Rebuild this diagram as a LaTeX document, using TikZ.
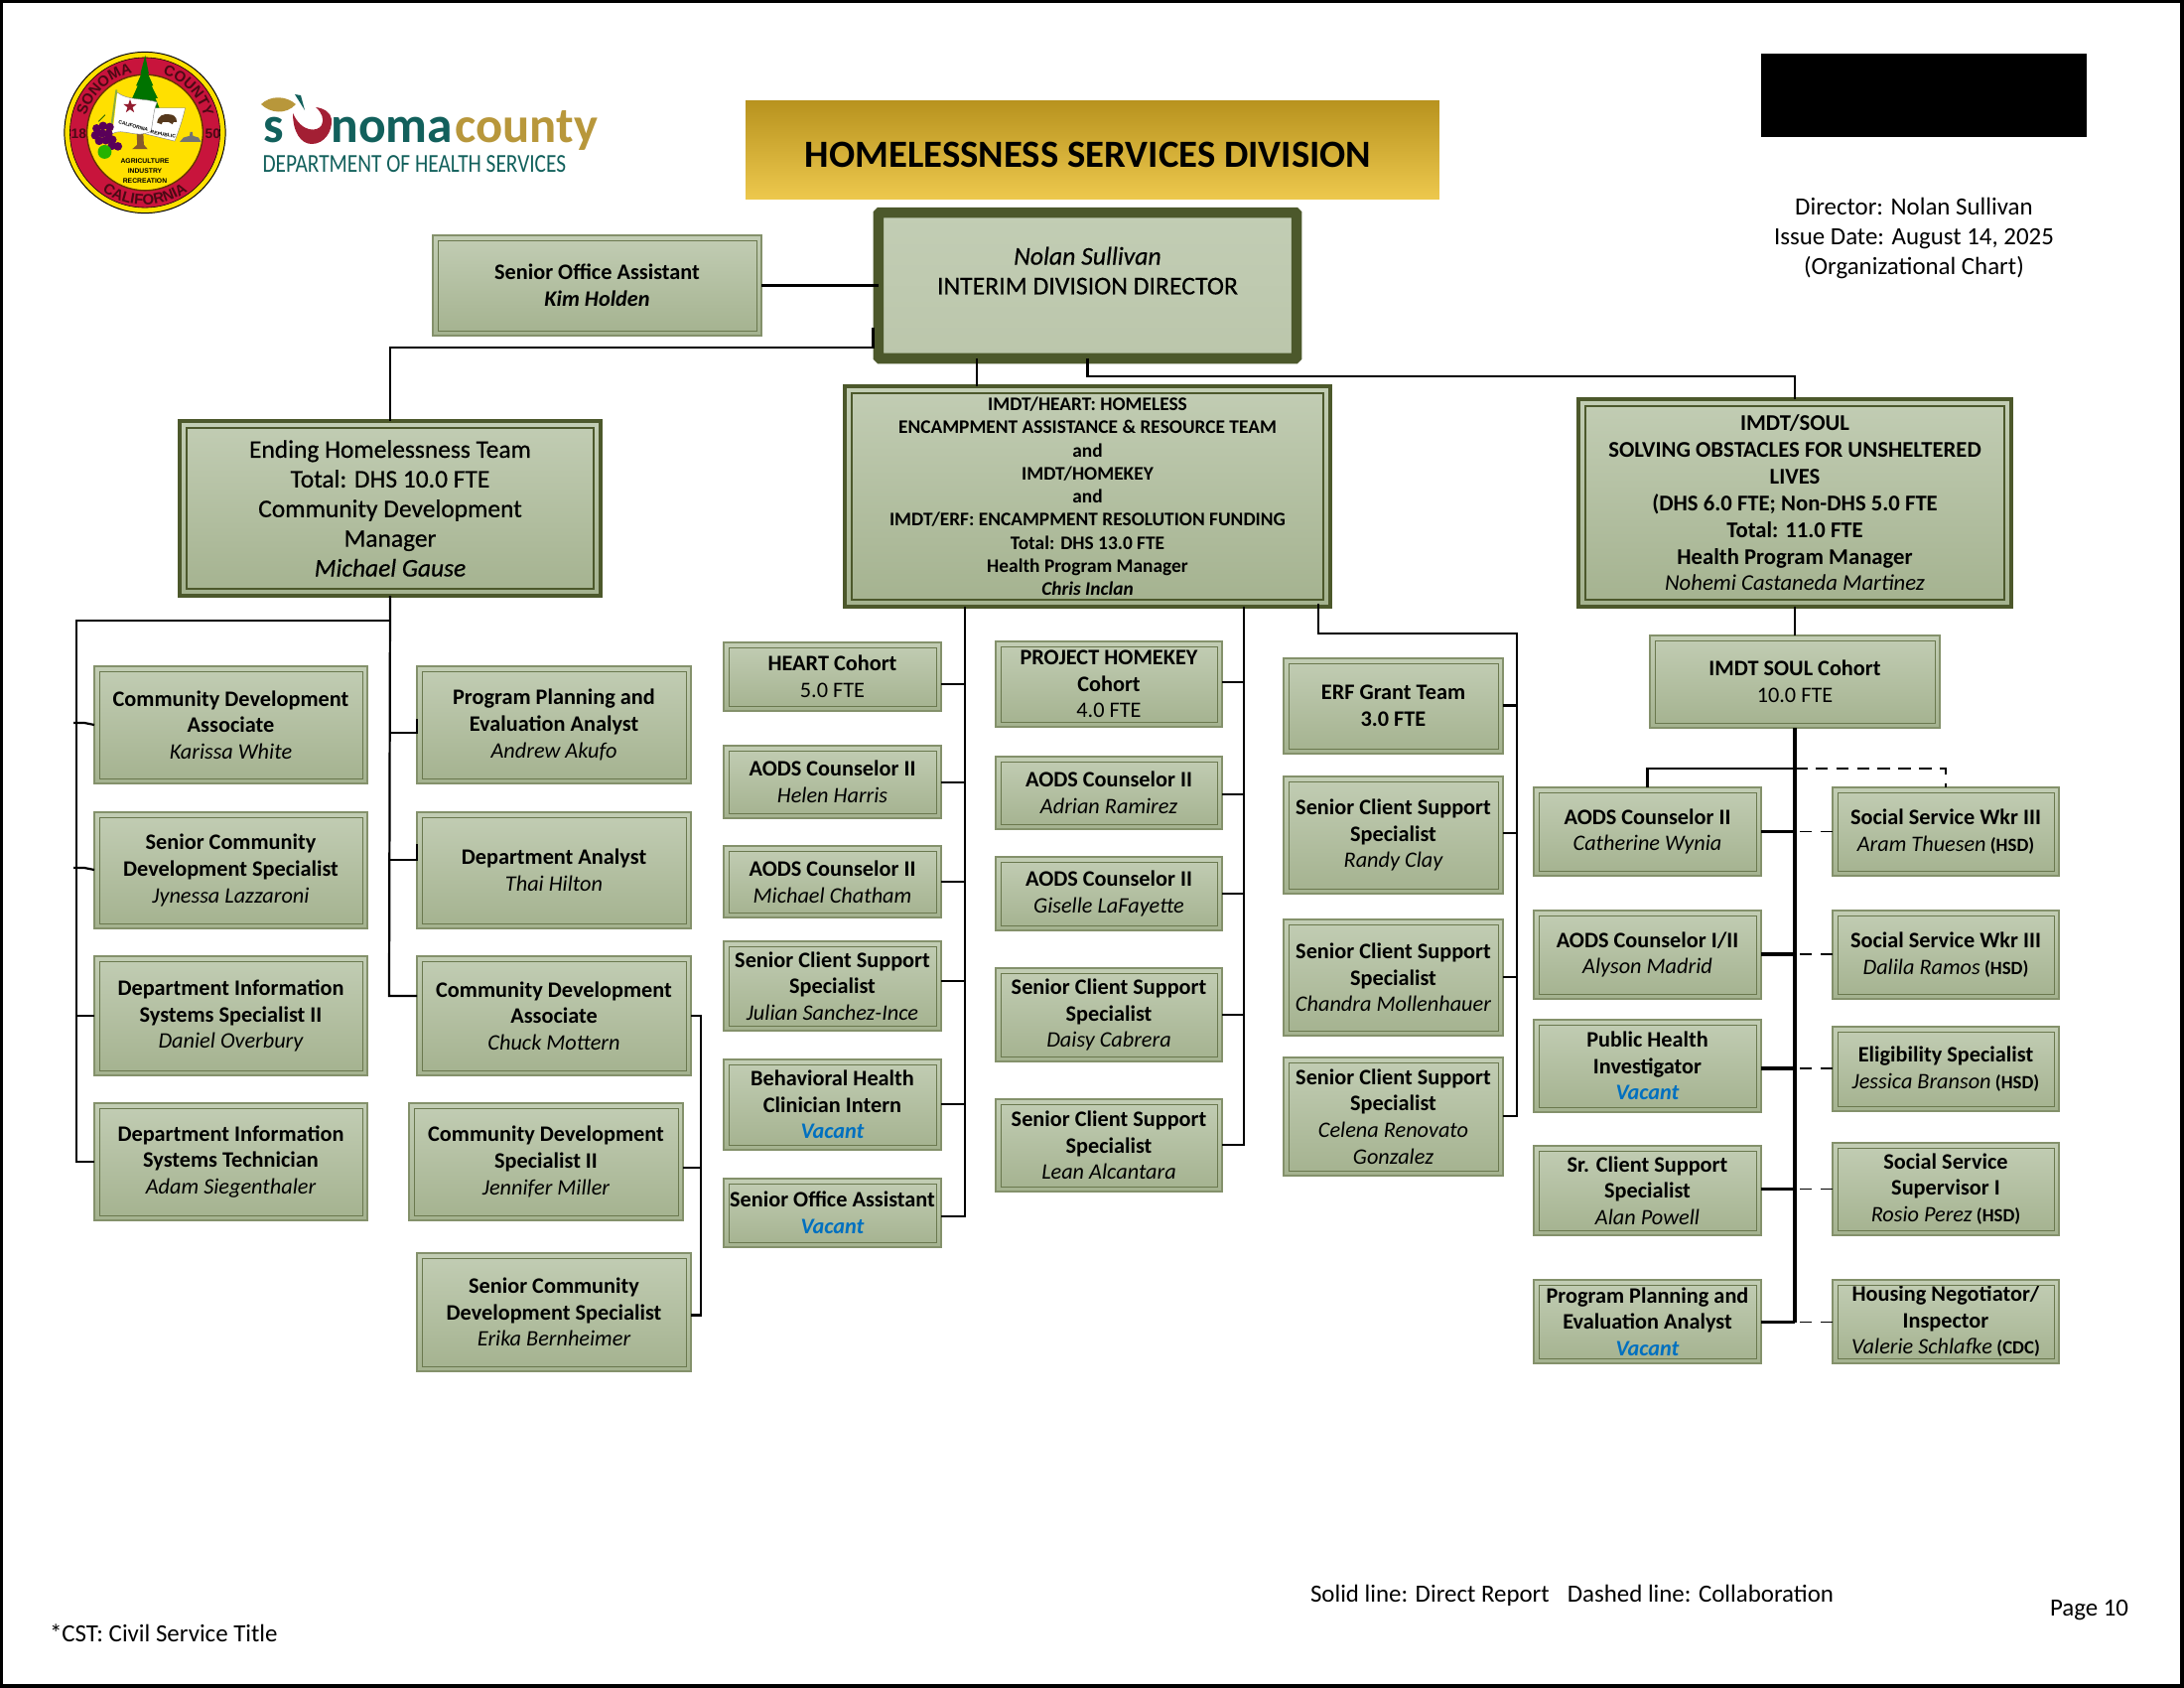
\documentclass[tikz,border=0pt]{standalone}
\usepackage{fontspec}
\setmainfont{Carlito}
\newfontfamily\sealf{Liberation Sans}
\newfontfamily\medf[FakeBold=0.5]{Carlito}
\usetikzlibrary{calc,decorations.text}
\definecolor{boxtop}{HTML}{C2CDB4}
\definecolor{boxbot}{HTML}{A4B28F}
\definecolor{boxedge}{HTML}{84916B}
\definecolor{boxin}{HTML}{6A784E}
\definecolor{bigedge}{HTML}{4C582B}
\definecolor{vacblue}{HTML}{0070C0}
\definecolor{teal}{HTML}{12605C}
\definecolor{logogold}{HTML}{B8973B}
\definecolor{logored}{HTML}{A31F34}
\definecolor{sealred}{HTML}{C8143C}
\definecolor{sealyel}{HTML}{FFE000}
\definecolor{sealtxt}{HTML}{4A0A14}
\definecolor{dirbot}{HTML}{BBC6AB}
\definecolor{bantop}{HTML}{B8931F}
\definecolor{banbot}{HTML}{EDC84D}
\tikzset{
 orgbox/.style={draw=boxedge,line width=0.5bp,top color=boxtop,bottom color=boxbot,inner sep=0pt,outer sep=0pt,align=center,text=black,font=\fontsize{8.05}{9.6}\selectfont\bfseries},
 bigbox/.style={draw=bigedge,line width=1.6bp,top color=boxtop,bottom color=boxbot,inner sep=0pt,outer sep=0pt,align=center,text=black},
 dirbox/.style={draw=bigedge,line width=3.8bp,rounded corners=0.5bp,top color=boxtop,bottom color=dirbot,inner sep=0pt,outer sep=0pt,align=center,text=black,font=\medf\fontsize{9.3}{10.8}\selectfont},
 innerline/.style={draw=boxin,line width=0.35bp},
 biginner/.style={draw=bigedge,line width=0.8bp},
 lnk/.style={draw=black,line width=0.8bp},
 lnkthick/.style={draw=black,line width=1.2bp},
 dashlnk/.style={draw=black,line width=0.7bp,dash pattern=on 4.5bp off 3bp},
 plain/.style={inner sep=0pt,outer sep=0pt,align=center,text=black,font=\fontsize{9}{10.7}\selectfont},
}
\newcommand\nm[1]{{\mdseries\itshape #1}}
\newcommand\vac{{\itshape\color{vacblue}Vacant}}
\newcommand\tg[1]{{\fontsize{6.8}{9.6}\selectfont\ (#1)}}
% name,x1,y1,x2,y2,text
\newcommand\obox[6]{%
 \pgfmathsetmacro\bw{(#4-#2)*0.36}\pgfmathsetmacro\bh{(#5-#3)*0.36}%
 \node[orgbox,minimum width=\bw bp,minimum height=\bh bp] (#1) at ({(#2+#4)/2},{(#3+#5)/2}) {#6};
 \draw[innerline] ([shift={(5,5)}]#1.north west) rectangle ([shift={(-5,-5)}]#1.south east);
}
\newcommand\bbox[7]{%
 \pgfmathsetmacro\bw{(#4-#2)*0.36}\pgfmathsetmacro\bh{(#5-#3)*0.36}%
 \node[bigbox,minimum width=\bw bp,minimum height=\bh bp,font=#6] (#1) at ({(#2+#4)/2},{(#3+#5)/2}) {#7};
 \draw[biginner] ([shift={(7,7)}]#1.north west) rectangle ([shift={(-7,-7)}]#1.south east);
}
\begin{document}
\begin{tikzpicture}[x=0.36bp,y=-0.36bp]
\useasboundingbox (0,0) rectangle (2200,1700);
\fill[white] (0,0) rectangle (2200,1700);
\draw[black,line width=1.1bp] (1.5,1.5) rectangle (2198,1698);
% ---- seal
\coordinate (sealc) at (146,133.5);
\begin{scope}[shift={(sealc)},x=1bp,y=1bp]
 \fill[sealyel] (0,0) circle (29.2);
 \draw[black,line width=0.35bp] (0,0) circle (29.2);
 \fill[sealred] (0,0) circle (27.2);
 \draw[black,line width=0.2bp] (0,0) circle (27.2);
 \fill[sealyel] (0,0) circle (21);
 \draw[black!60!orange,line width=0.5bp] (0,0) circle (21);
 % tree
 \fill[green!45!black] (0.1,28) -- (1.4,21.5) -- (1,21.5) -- (3,17) -- (2.4,17) -- (4.6,12.5) -- (3.8,12.5) -- (6,7) -- (-5.6,9) -- (-4,12.5) -- (-4.6,12.5) -- (-2.6,17) -- (-3.2,17) -- (-1.2,21.5) -- (-1.6,21.5) -- cycle;
 % trunk
 \fill[brown!70!black] (-3,0) -- (-0.6,0) -- (-0.4,-4.4) -- (1,-6) -- (-4.6,-6) -- (-2.8,-4.4) -- cycle;
 % flag pole
 \draw[black!35!yellow!70!green,line width=0.7bp] (-10.3,15.5) -- (-12.6,-1);
 % flag pages
 \fill[white] (3.6,8.9) -- (14.6,8.9) .. controls (13.5,4) and (12,0) .. (10.8,-3.1) -- (0.2,-0.5) -- cycle;
 \draw[black!50,line width=0.15bp] (3.6,8.9) -- (14.6,8.9) .. controls (13.5,4) and (12,0) .. (10.8,-3.1) -- (0.2,-0.5);
 \fill[white] (-10,14.5) .. controls (-6,11.5) and (0,12.5) .. (4.4,11) .. controls (3,8) and (3,4) .. (2.2,0.5) .. controls (-3,-2.5) and (-8,2) .. (-12,-0.5) .. controls (-11,4) and (-10.8,9) .. (-10,14.5) -- cycle;
 \draw[black!50,line width=0.15bp] (-10,14.5) .. controls (-6,11.5) and (0,12.5) .. (4.4,11) .. controls (3,8) and (3,4) .. (2.2,0.5) .. controls (-3,-2.5) and (-8,2) .. (-12,-0.5);
 % star
 \fill[logored!90!black] (-5.4,12.1) -- (-4.8,10.3) -- (-3,10.3) -- (-4.5,9.1) -- (-3.9,7.3) -- (-5.4,8.4) -- (-6.9,7.3) -- (-6.3,9.1) -- (-7.8,10.3) -- (-6,10.3) -- cycle;
 % bear
 \fill[black!55!brown] (4.4,3.6) .. controls (4.8,6.4) and (7,6.8) .. (8.5,6.6) .. controls (10.5,6.6) and (11.4,5.8) .. (11.6,3.8) -- (10.4,3.8) -- (10,3) -- (8.6,3.8) -- (6.4,3.8) -- (6,3) -- cycle;
 \node[font=\sealf\fontsize{1.8}{2}\selectfont\bfseries,rotate=-15,inner sep=0pt] (sealtxtc) at (-4.2,2.3) {CALIFORNIA};
 \node[font=\sealf\fontsize{1.8}{2}\selectfont\bfseries,rotate=-10,inner sep=0pt] (sealtxtr) at (6.6,-0.7) {REPUBLIC};
 % grapes
 \foreach \p in {(-17.5,1.5),(-15.2,2.4),(-12.8,2),(-18,-1),(-15.6,-0.3),(-13.2,-0.4),(-16.6,-3),(-14.2,-2.8),(-11.8,-2.6),(-12,-4.8),(-9.8,-5)}
   \fill[violet!70!black] \p circle (1.55);
 \draw[green!30!black,line width=0.25bp] (-16.8,4) -- (-14.4,6.4);
 % apple
 \fill[green!65!black!85!yellow] (-14.6,-7) circle (2.5);
 % dome building
 \fill[black!55] (12.6,-3.4) -- (20.4,-3.4) -- (19.4,-1.8) -- (17.4,-1.2) -- (17.2,0.2) -- (16.4,0.2) -- (16.2,-1.2) -- (14,-1.8) -- cycle;
 \node[font=\sealf\fontsize{2.45}{3.5}\selectfont\bfseries,align=center,inner sep=0pt] (sealmotto) at (0,-13.9) {AGRICULTURE\\INDUSTRY\\RECREATION};
 \path[decorate,decoration={text along path,text={|\sealf\fontsize{5.4}{6}\selectfont\bfseries\color{sealtxt}|SONOMA},text align=center}] (170:22.2) arc[start angle=170,end angle=96,radius=22.2];
 \path[decorate,decoration={text along path,text={|\sealf\fontsize{5.4}{6}\selectfont\bfseries\color{sealtxt}|COUNTY},text align=center}] (80:22.2) arc[start angle=80,end angle=8,radius=22.2];
 \path[decorate,decoration={text along path,text={|\sealf\fontsize{5.4}{6}\selectfont\bfseries\color{sealtxt}|CALIFORNIA},text align=center}] (222:26.2) arc[start angle=222,end angle=318,radius=26.2];
 \node[font=\sealf\fontsize{5}{5}\selectfont\bfseries,text=sealtxt,inner sep=0pt] (seal18) at (-24,-0.5) {18};
 \node[font=\sealf\fontsize{5}{5}\selectfont\bfseries,text=sealtxt,inner sep=0pt] (seal50) at (24.6,-0.6) {50};
\end{scope}
% ---- logo
\fill[logogold] (263,105) .. controls (272,96) and (288,96) .. (298,105) .. controls (288,116) and (272,114) .. (263,105) -- cycle;
\fill[teal] (297,95) -- (303,96) -- (307,111) -- cycle;
\fill[logored] (295,114) .. controls (295,133) and (303,145) .. (314,145) .. controls (327,145) and (335,132) .. (334,120) .. controls (333,113) and (326,109) .. (318,108) .. controls (324,113) and (327,120) .. (324,126) .. controls (320,133) and (304,134) .. (295,114) -- cycle;
\node[anchor=base west,inner sep=0pt,text=teal,font=\fontsize{18.6}{20}\selectfont\bfseries] (logos) at (265,143) {s};
\node[anchor=base west,inner sep=0pt,text=teal,font=\fontsize{18.6}{20}\selectfont\bfseries] (logon) at (333,143) {noma};
\node[anchor=base west,inner sep=0pt,text=logogold,font=\fontsize{18.3}{20}\selectfont\bfseries] (logoc) at (458,143) {county};
\node[anchor=base west,inner sep=0pt,text=teal,font=\fontsize{9.4}{10}\selectfont] (logod) at (264,173) {\scalebox{0.82}[1]{DEPARTMENT OF HEALTH SERVICES}};
% ---- banner
\node[inner sep=0pt,outer sep=0pt,minimum width=251.6bp,minimum height=35.3bp,top color=bantop,bottom color=banbot,font=\fontsize{14}{16}\selectfont\bfseries] (banner) at (1100.5,151) {\raisebox{-6.3bp}[0pt][0pt]{HOMELESSNESS SERVICES DIVISION\kern3.2bp}};
% ---- black block and header text
\fill[black] (1774,54) rectangle (2102,138);
\node[plain] (issue) at (1928,240) {Director: Nolan Sullivan\\Issue Date: August 14, 2025\\(Organizational Chart)};
\node[plain,anchor=west] (legend) at (1320,1607) {Solid line: Direct Report\hspace{0.5em} Dashed line: Collaboration};
\node[plain,anchor=west] (pageno) at (2065,1622) {Page 10};
\node[plain,anchor=west] (cst) at (50,1645) {*CST: Civil Service Title};
% ---- top nodes
\node[dirbox,minimum width=151.6bp,minimum height=52.9bp] (dir) at (1095.5,287.5) {{\itshape Nolan Sullivan}\\INTERIM DIVISION DIRECTOR\\\ };
\obox{soa}{436}{237}{767}{338}{Senior Office Assistant\\{\itshape Kim Holden}}
\bbox{eht}{181}{424}{605}{600}{\medf\fontsize{9.2}{10.8}\selectfont}{Ending Homelessness Team\\Total: DHS 10.0 FTE\\Community Development\\Manager\\{\itshape Michael Gause}}
\bbox{mid}{851}{389}{1340}{611}{\fontsize{7}{8.4}\selectfont\bfseries}{IMDT/HEART: HOMELESS\\ENCAMPMENT ASSISTANCE \& RESOURCE TEAM\\and\\IMDT/HOMEKEY\\and\\IMDT/ERF: ENCAMPMENT RESOLUTION FUNDING\\Total: DHS 13.0 FTE\\Health Program Manager\\{\itshape Chris Inclan}}
\bbox{soul}{1590}{402}{2026}{611}{\fontsize{8.2}{9.7}\selectfont\bfseries}{IMDT/SOUL\\SOLVING OBSTACLES FOR UNSHELTERED\\LIVES\\(DHS 6.0 FTE; Non-DHS 5.0 FTE\\Total: 11.0 FTE\\Health Program Manager\\\nm{Nohemi Castaneda Martinez}}
% ---- ending homelessness reports
\obox{karissa}{95}{671}{370}{789}{Community Development\\Associate\\\nm{Karissa White}}
\obox{jynessa}{95}{818}{370}{935}{Senior Community\\Development Specialist\\\nm{Jynessa Lazzaroni}}
\obox{daniel}{95}{963}{370}{1083}{Department Information\\Systems Specialist II\\\nm{Daniel Overbury}}
\obox{adam}{95}{1111}{370}{1229}{Department Information\\Systems Technician\\\nm{Adam Siegenthaler}}
\obox{andrew}{420}{671}{696}{789}{Program Planning and\\Evaluation Analyst\\\nm{Andrew Akufo}}
\obox{thai}{420}{818}{696}{935}{Department Analyst\\\nm{Thai Hilton}}
\obox{chuck}{420}{963}{696}{1083}{Community Development\\Associate\\\nm{Chuck Mottern}}
\obox{jennifer}{412}{1111}{688}{1229}{Community Development\\Specialist II\\\nm{Jennifer Miller}}
\obox{erika}{420}{1262}{696}{1381}{Senior Community\\Development Specialist\\\nm{Erika Bernheimer}}
% ---- heart column
\obox{heart}{729}{647}{948}{716}{HEART Cohort\\{\mdseries 5.0 FTE}}
\obox{helen}{729}{751}{948}{824}{AODS Counselor II\\\nm{Helen Harris}}
\obox{chatham}{729}{852}{948}{924}{AODS Counselor II\\\nm{Michael Chatham}}
\obox{julian}{729}{948}{948}{1038}{Senior Client Support\\Specialist\\\nm{Julian Sanchez-Ince}}
\obox{bhci}{729}{1067}{948}{1158}{Behavioral Health\\Clinician Intern\\\vac}
\obox{soav}{729}{1187}{948}{1256}{Senior Office Assistant\\\vac}
% ---- homekey column
\obox{homekey}{1003}{646}{1231}{732}{PROJECT HOMEKEY\\Cohort\\{\mdseries 4.0 FTE}}
\obox{adrian}{1003}{762}{1231}{835}{AODS Counselor II\\\nm{Adrian Ramirez}}
\obox{giselle}{1003}{863}{1231}{937}{AODS Counselor II\\\nm{Giselle LaFayette}}
\obox{daisy}{1003}{975}{1231}{1069}{Senior Client Support\\Specialist\\\nm{Daisy Cabrera}}
\obox{lean}{1003}{1107}{1231}{1200}{Senior Client Support\\Specialist\\\nm{Lean Alcantara}}
% ---- erf column
\obox{erf}{1293}{663}{1514}{759}{ERF Grant Team\\3.0 FTE}
\obox{randy}{1293}{782}{1514}{900}{Senior Client Support\\Specialist\\\nm{Randy Clay}}
\obox{chandra}{1293}{926}{1514}{1043}{Senior Client Support\\Specialist\\\nm{Chandra Mollenhauer}}
\obox{celena}{1293}{1065}{1514}{1184}{Senior Client Support\\Specialist\\\nm{Celena Renovato}\\\nm{Gonzalez}}
% ---- soul
\obox{cohort}{1662}{640}{1954}{733}{IMDT SOUL Cohort\\{\mdseries 10.0 FTE}}
\obox{catherine}{1545}{793}{1774}{882}{AODS Counselor II\\\nm{Catherine Wynia}}
\obox{alyson}{1545}{917}{1774}{1006}{AODS Counselor I/II\\\nm{Alyson Madrid}}
\obox{phi}{1545}{1027}{1774}{1120}{Public Health\\Investigator\\\vac}
\obox{alan}{1545}{1154}{1774}{1244}{Sr. Client Support\\Specialist\\\nm{Alan Powell}}
\obox{ppea}{1545}{1289}{1774}{1373}{Program Planning and\\Evaluation Analyst\\\vac}
\obox{aram}{1846}{793}{2074}{882}{Social Service Wkr III\\\nm{Aram Thuesen}\tg{HSD}}
\obox{dalila}{1846}{917}{2074}{1006}{Social Service Wkr III\\\nm{Dalila Ramos}\tg{HSD}}
\obox{jessica}{1846}{1034}{2074}{1119}{Eligibility Specialist\\\nm{Jessica Branson}\tg{HSD}}
\obox{rosio}{1846}{1151}{2074}{1244}{Social Service\\Supervisor I\\\nm{Rosio Perez}\tg{HSD}}
\obox{valerie}{1846}{1289}{2074}{1373}{Housing Negotiator/\\Inspector\\\nm{Valerie Schlafke}\tg{CDC}}
% ---- connectors
\coordinate (tleft) at (77,625);
\coordinate (tmid) at (392,625);
\coordinate (tcomm) at (706,1023);
\coordinate (terf) at (1528,638);
\draw[lnk] (soa.east) -- (dir.west);
\draw[lnk] ([xshift=-2]dir.west |- 0,330) -- ([xshift=-2]dir.west |- 0,350) -| (eht.north);
\draw[lnk] (984,0 |- dir.south) -- (984,0 |- mid.north);
\draw[lnk] (dir.south) -- (dir.south |- 0,379) -| (soul.north);
\draw[lnk] (eht.south) -- (tmid |- 0,1003) -- (chuck.west |- 0,1003);
\draw[lnk] (tmid) -- (tleft) -- (tleft |- 0,1170) -- (adam.west |- 0,1170);
\draw[lnk] (karissa.west |- 0,730) -- (85,728) -- (74,728);
\draw[lnk] (jynessa.west |- 0,876) -- (85,874) -- (74,874);
\draw[lnk] (tleft |- 0,1023) -- (daniel.west |- 0,1023);
\draw[lnk] (tmid |- 0,738) -- (andrew.west |- 0,738) -- (andrew.west |- 0,724);
\draw[lnk] (tmid |- 0,866) -- (thai.west |- 0,866) -- (thai.west |- 0,850);
\draw[lnk] (chuck.east |- tcomm) -- (tcomm) -- (tcomm |- 0,1324.5) -- (erika.east |- 0,1324.5);
\draw[lnk] (jennifer.east |- 0,1176) -- (tcomm |- 0,1176);
% heart column
\draw[lnk] (972,0 |- mid.south) -- (972,1225) -- (soav.east |- 0,1225);
\foreach \n/\y in {heart/689,helen/788,chatham/888,julian/988,bhci/1112}
  \draw[lnk] (\n.east |- 0,\y) -- (972,\y);
% homekey column
\draw[lnk] (1253,0 |- mid.south) -- (1253,1153) -- (lean.east |- 0,1153);
\foreach \n/\y in {homekey/687,adrian/800,giselle/900,daisy/1022}
  \draw[lnk] (\n.east |- 0,\y) -- (1253,\y);
% erf column
\draw[lnk] (1328,608) -- (1328,638) -- (terf) -- (1528,1124) -- (celena.east |- 0,1124);
\foreach \n/\y in {erf/710.5,randy/839,chandra/984}
  \draw[lnk] (\n.east |- 0,\y) -- (1528,\y);
% soul
\draw[lnk] (soul.south) -- (cohort.north);
\draw[lnkthick] (cohort.south) -- (1808,1331.5);
\draw[lnk] (1808,774) -| (catherine.north);
\foreach \n/\y in {catherine/837.5,alyson/961,phi/1076}
  \draw[lnkthick] (\n.east |- 0,\y) -- (1808,\y);
\foreach \n/\y in {alan/1197.5,ppea/1331.5}
  \draw[lnk] (\n.east |- 0,\y) -- (1808,\y);
\draw[dashlnk] (1808,774) -| (aram.north);
\foreach \n/\y in {aram/837.5,dalila/961,jessica/1076,rosio/1197.5,valerie/1331.5}
  \draw[dashlnk] (\n.west |- 0,\y) -- (1808,\y);
\end{tikzpicture}
\end{document}
